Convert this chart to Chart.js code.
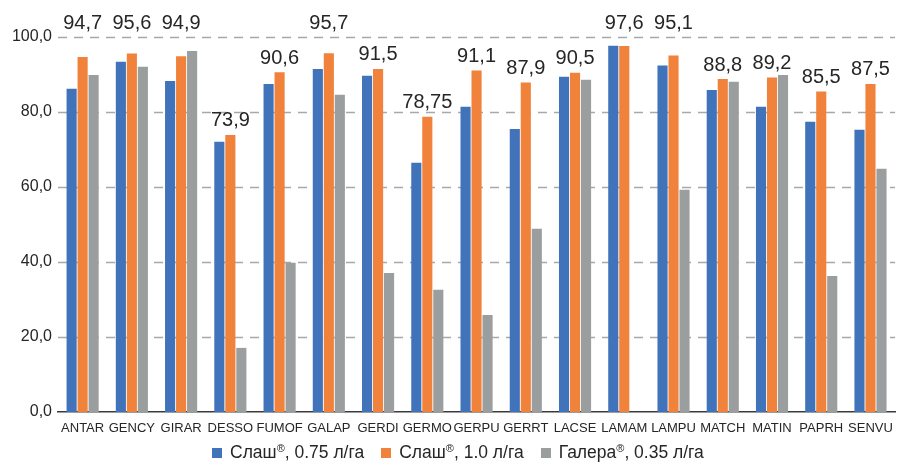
<!DOCTYPE html>
<html>
<head>
<meta charset="utf-8">
<script src="https://cdn.jsdelivr.net/npm/chart.js@4/dist/chart.umd.min.js"></script>
<style>
  html, body { margin: 0; padding: 0; background: #fff; }
  #wrap { position: relative; width: 902px; height: 464px; }
  #legend {
    position: absolute; left: 212px; top: 442px;
    display: flex; align-items: center; white-space: nowrap;
    font-family: 'Liberation Sans', Arial, sans-serif; font-size: 17.5px; color: #262626;
  }
  #legend .item { display: flex; align-items: center; margin-right: 17px; }
  #legend .box { width: 10px; height: 10px; margin-right: 8px; }
  #legend sup { font-size: 11px; vertical-align: 6px; line-height: 0; }
</style>
</head>
<body>
<div id="wrap">
  <canvas id="c" width="902" height="464"></canvas>
  <div id="legend"></div>
</div>
<script>
// Weed species codes
const categories = ['ANTAR','GENCY','GIRAR','DESSO','FUMOF','GALAP','GERDI','GERMO','GERPU','GERRT','LACSE','LAMAM','LAMPU','MATCH','MATIN','PAPRH','SENVU'];

// Efficacy, % by treatment
const slash075 = [86.2, 93.4, 88.3, 72.1, 87.5, 91.5, 89.7, 66.5, 81.4, 75.5, 89.4, 97.7, 92.4, 85.9, 81.4, 77.4, 75.3];
const slash10  = [94.7, 95.6, 94.9, 73.9, 90.6, 95.7, 91.5, 78.75, 91.1, 87.9, 90.5, 97.6, 95.1, 88.8, 89.2, 85.5, 87.5];
const galera035 = [89.9, 92.1, 96.3, 17.1, 39.8, 84.6, 37.1, 32.6, 25.9, 48.9, 88.6, null, 59.3, 88.1, 89.9, 36.3, 64.9];

const seriesNames = ['Слаш®, 0.75 л/га', 'Слаш®, 1.0 л/га', 'Галера®, 0.35 л/га'];
const seriesColors = ['#4073b9', '#f0823c', '#9b9e9f'];

const yTicks = [0, 20, 40, 60, 80, 100];

const FONT = "'Liberation Sans', Arial, sans-serif";
const fmt = v => String(v).replace('.', ',');

// Dashed horizontal gridlines at each y tick, drawn behind the bars
const dashedGrid = {
  id: 'dashedGrid',
  beforeDatasetsDraw(chart) {
    const { ctx, chartArea } = chart;
    const y = chart.scales.y;
    ctx.save();
    ctx.strokeStyle = '#a8a8a8';
    ctx.lineWidth = 1.3;
    ctx.setLineDash([9, 7]);
    y.ticks.forEach(t => {
      if (t.value === 0) return;
      const py = Math.round(y.getPixelForValue(t.value)) + 0.5;
      ctx.beginPath();
      ctx.moveTo(chartArea.left, py);
      ctx.lineTo(chartArea.right, py);
      ctx.stroke();
    });
    ctx.restore();
  }
};

// Value labels above the 1.0 л/га bars; labels that would cross the top gridline are lifted above it
const valueLabels = {
  id: 'valueLabels',
  afterDatasetsDraw(chart) {
    const ctx = chart.ctx;
    const meta = chart.getDatasetMeta(1);
    const yScale = chart.scales.y;
    const yTop = yScale.getPixelForValue(yTicks[yTicks.length - 1]);
    ctx.save();
    ctx.font = '20px ' + FONT;
    ctx.fillStyle = '#262626';
    ctx.textAlign = 'center';
    ctx.textBaseline = 'middle';
    meta.data.forEach((bar, i) => {
      const v = slash10[i];
      let cy = bar.y - 14;
      if (cy - 8 < yTop + 2) cy = yTop - 14;
      ctx.fillText(fmt(v), bar.x, cy);
    });
    ctx.restore();
  }
};

const chart = new Chart(document.getElementById('c'), {
  type: 'bar',
  data: {
    labels: categories,
    datasets: [
      { label: seriesNames[0], data: slash075, backgroundColor: seriesColors[0] },
      { label: seriesNames[1], data: slash10, backgroundColor: seriesColors[1] },
      { label: seriesNames[2], data: galera035, backgroundColor: seriesColors[2] }
    ]
  },
  options: {
    responsive: false,
    animation: false,
    datasets: { bar: { barPercentage: 0.92, categoryPercentage: 0.67 } },
    layout: { padding: { top: 37, right: 4, bottom: 30, left: 0 } },
    plugins: { legend: { display: false }, tooltip: { enabled: false } },
    scales: {
      x: {
        grid: { display: false, drawTicks: false },
        border: { display: true, color: '#3a3a3a', width: 1.5 },
        ticks: { autoSkip: false, maxRotation: 0, minRotation: 0, padding: 9,
                 color: '#262626', font: { family: FONT, size: 13 } },
        afterFit(s) { s.height = 22; }
      },
      y: {
        min: 0, max: 100,
        afterBuildTicks(s) { s.ticks = yTicks.map(v => ({ value: v })); },
        grid: { display: false, drawTicks: false },
        border: { display: false },
        ticks: { padding: 6, color: '#262626', font: { family: FONT, size: 16 },
                 callback: v => v.toFixed(1).replace('.', ',') },
        afterFit(s) { s.width = 58; }
      }
    }
  },
  plugins: [dashedGrid, valueLabels]
});

// Legend built from the series names and colours
const legend = document.getElementById('legend');
seriesNames.forEach((name, i) => {
  const item = document.createElement('div');
  item.className = 'item';
  const box = document.createElement('span');
  box.className = 'box';
  box.style.background = seriesColors[i];
  const text = document.createElement('span');
  text.innerHTML = name.replace('®', '<sup>®</sup>');
  item.appendChild(box);
  item.appendChild(text);
  legend.appendChild(item);
});
</script>
</body>
</html>
